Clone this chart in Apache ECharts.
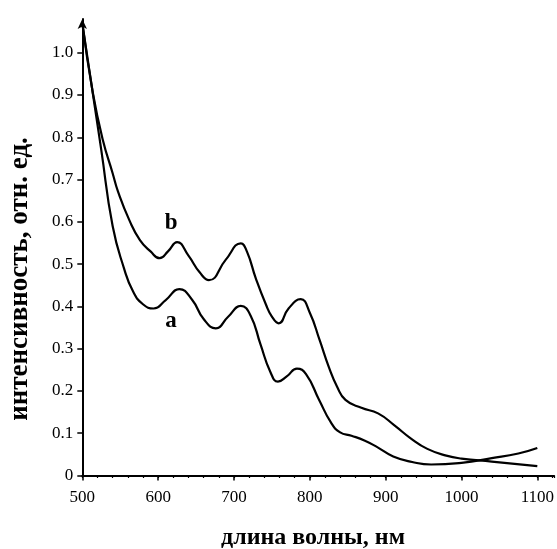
<!DOCTYPE html>
<html><head><meta charset="utf-8">
<script src="https://cdn.jsdelivr.net/npm/echarts@6/dist/echarts.min.js"></script>
<style>html,body{margin:0;padding:0;background:#fff;}#c{width:557px;height:549px;}</style>
</head><body><div id="c"></div>
<script>
const wavelengthsA = [500,510,525,540,555,567,580,594,610,628,645,660,676,692,709,722,735,748,758,770,783,795,812,828,840,855,872,890,910,935,960,1000,1040,1075,1100];
const seriesA =      [1.07,0.95,0.77,0.59,0.49,0.435,0.405,0.395,0.415,0.441,0.415,0.37,0.348,0.375,0.401,0.378,0.31,0.245,0.222,0.235,0.253,0.24,0.18,0.125,0.102,0.094,0.083,0.066,0.045,0.032,0.026,0.03,0.041,0.052,0.065];
const wavelengthsB = [500,514,527,540,547,562,576,590,602,613,625,640,655,667,689,709,717,729,742,750,759,772,788,800,813,825,836,847,868,890,912,933,955,980,1000,1040,1100];
const seriesB =      [1.07,0.904,0.794,0.715,0.672,0.604,0.557,0.53,0.514,0.53,0.552,0.52,0.48,0.462,0.51,0.549,0.53,0.465,0.405,0.376,0.36,0.395,0.417,0.385,0.32,0.257,0.21,0.179,0.16,0.147,0.118,0.088,0.063,0.047,0.04,0.033,0.022];
const xTicks = [500,600,700,800,900,1000,1100];
const yTicks = [0,0.1,0.2,0.3,0.4,0.5,0.6,0.7,0.8,0.9,1.0];
const labelA = ['a', 617, 0.366];
const labelB = ['b', 617, 0.598];
const xTitle = 'длина волны, нм';
const yTitle = 'интенсивность, отн. ед.';

const serif = 'Liberation Serif';
const chart = echarts.init(document.getElementById('c'), null, {renderer:'canvas'});
function pairs(xs, ys){ return xs.map((w,i)=>[w, ys[i]]); }
function mk(lbl){
  return {symbol:'circle', symbolSize:0, silent:true,
    label:{show:true, position:'inside', formatter:lbl[0], color:'#000', fontFamily:serif, fontWeight:'bold', fontSize:23},
    data:[{coord:[lbl[1], lbl[2]]}]};
}
chart.setOption({
  animation:false,
  backgroundColor:'#fff',
  grid:{left:82.3, right:0, top:18.9, bottom:73.5},
  xAxis:[{
    type:'value', min:500, max:1122, position:'bottom',
    axisLine:{show:true, lineStyle:{color:'#000', width:2}},
    axisTick:{show:true, customValues:xTicks, length:5, inside:false, lineStyle:{color:'#000', width:1.5}},
    axisLabel:{show:true, customValues:xTicks, margin:14, color:'#000', fontFamily:serif, fontSize:17,
      formatter:v=>String(v)},
    splitLine:{show:false}
  },{
    type:'value', min:500, max:1122, interval:20, position:'bottom', offset:0,
    axisLine:{show:false},
    axisTick:{show:true, length:2.5, lineStyle:{color:'#000', width:1.2}},
    axisLabel:{show:false},
    splitLine:{show:false}
  }],
  yAxis:{
    type:'value', min:0, max:1.08,
    axisLine:{show:true, symbol:['none','arrow'], symbolSize:[7,10], lineStyle:{color:'#000', width:2}},
    axisTick:{show:true, customValues:yTicks, length:5, lineStyle:{color:'#000', width:1.5}},
    axisLabel:{show:true, customValues:yTicks, margin:9, color:'#000', fontFamily:serif, fontSize:17,
      formatter:v=> v===0 ? '0' : v.toFixed(1)},
    splitLine:{show:false}
  },
  graphic:[
    {type:'text', x:313, y:538, style:{text:xTitle, x:0, y:0, align:'center', verticalAlign:'middle', fill:'#000', font:'bold 24px "Liberation Serif"'}},
    {type:'text', x:20, y:279, rotation:Math.PI/2, style:{text:yTitle, x:0, y:0, align:'center', verticalAlign:'middle', fill:'#000', font:'bold 27px "Liberation Serif"'}}
  ],
  series:[
    {type:'line', name:'a', data:pairs(wavelengthsA, seriesA), xAxisIndex:0, showSymbol:false, smooth:0.5,
      lineStyle:{color:'#000', width:2.2}, markPoint:mk(labelA)},
    {type:'line', name:'b', data:pairs(wavelengthsB, seriesB), xAxisIndex:0, showSymbol:false, smooth:0.5,
      lineStyle:{color:'#000', width:2.2}, markPoint:mk(labelB)}
  ]
});
</script></body></html>
